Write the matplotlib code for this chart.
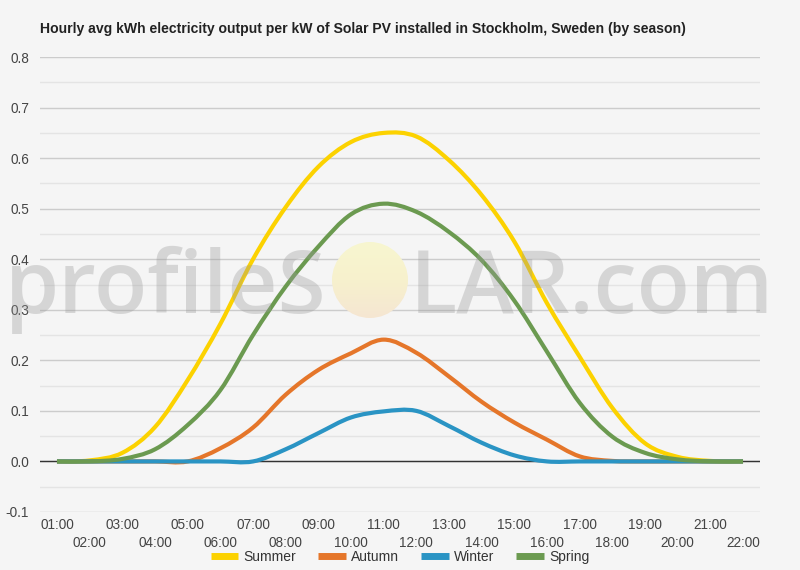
import matplotlib
matplotlib.use("Agg")
import matplotlib.pyplot as plt
from matplotlib.path import Path
from matplotlib.patches import PathPatch, Circle
from matplotlib.lines import Line2D
from matplotlib.colors import LinearSegmentedColormap
import numpy as np

hours = list(range(1, 23))
hour_labels = [f"{h:02d}:00" for h in hours]

summer = [0.0, 0.002, 0.017, 0.068, 0.161, 0.272, 0.4, 0.503, 0.583, 0.632, 0.65, 0.643,
          0.596, 0.527, 0.435, 0.313, 0.207, 0.106, 0.036, 0.009, 0.001, 0.0]
autumn = [0.0, 0.0, 0.0, 0.0, 0.0, 0.026, 0.067, 0.132, 0.181, 0.214, 0.241, 0.215,
          0.168, 0.118, 0.077, 0.043, 0.01, 0.001, 0.0, 0.0, 0.0, 0.0]
winter = [0.0, 0.0, 0.0, 0.0, 0.0, 0.0, 0.0, 0.024, 0.056, 0.087, 0.099, 0.1,
          0.07, 0.037, 0.012, 0.0, 0.0, 0.0, 0.0, 0.0, 0.0, 0.0]
spring = [0.0, 0.0, 0.005, 0.024, 0.072, 0.141, 0.25, 0.346, 0.425, 0.489, 0.51, 0.494,
          0.454, 0.398, 0.318, 0.217, 0.116, 0.049, 0.017, 0.004, 0.0, 0.0]

series_names = ["Summer", "Autumn", "Winter", "Spring"]
series_values = [summer, autumn, winter, spring]
series_colors = ["#fcd200", "#e5762a", "#2a94c4", "#6b9a50"]

title = "Hourly avg kWh electricity output per kW of Solar PV installed in Stockholm, Sweden (by season)"

BG = "#f5f5f5"
plt.rcParams['font.family'] = ['Liberation Sans', 'DejaVu Sans']

fig = plt.figure(figsize=(8, 5.7), dpi=100, facecolor=BG)
ax = fig.add_axes([0.05, 0.1018, 0.90, 0.798], facecolor=BG)


def smooth_path(xs, ys):
    xs = np.asarray(xs, float)
    ys = np.asarray(ys, float)
    n = len(xs)
    verts = [(xs[0], ys[0])]
    codes = [Path.MOVETO]
    for i in range(n - 1):
        p0 = i - 1 if i > 0 else i
        p3 = i + 2 if i + 2 < n else i + 1
        c1 = (xs[i] + (xs[i + 1] - xs[p0]) / 6, ys[i] + (ys[i + 1] - ys[p0]) / 6)
        c2 = (xs[i + 1] - (xs[p3] - xs[i]) / 6, ys[i + 1] - (ys[p3] - ys[i]) / 6)
        verts += [c1, c2, (xs[i + 1], ys[i + 1])]
        codes += [Path.CURVE4] * 3
    return Path(verts, codes)


# grid
for v in np.arange(-0.1, 0.801, 0.1):
    ax.axhline(v, color="#cccccc", lw=1.0, zorder=1)
for v in np.arange(-0.05, 0.8, 0.1):
    ax.axhline(v, color="#e4e4e4", lw=1.0, zorder=1)
ax.axhline(0, color="#333333", lw=1.0, zorder=2)

for name, vals, col in zip(series_names, series_values, series_colors):
    p = smooth_path(hours, vals)
    ax.add_patch(PathPatch(p, fill=False, edgecolor=col, lw=3.0, zorder=3,
                           capstyle='butt', joinstyle='round'))

ax.set_xlim(0.48, 22.52)
ax.set_ylim(-0.1, 0.8)
for s in ax.spines.values():
    s.set_visible(False)

yt = np.arange(-0.1, 0.801, 0.1)
ax.set_yticks(yt)
ax.set_yticklabels([f"{v:.1f}" for v in yt])
ax.tick_params(axis='y', length=0, pad=8, labelsize=9.8, labelcolor="#444444")

odd = [h for h in hours if h % 2 == 1]
even = [h for h in hours if h % 2 == 0]
ax.set_xticks(odd)
ax.set_xticklabels([hour_labels[h - 1] for h in odd])
ax.set_xticks(even, minor=True)
ax.set_xticklabels([hour_labels[h - 1] for h in even], minor=True)
ax.tick_params(axis='x', which='major', length=0, pad=4, labelsize=9.8, labelcolor="#444444")
ax.tick_params(axis='x', which='minor', length=0, pad=17, labelsize=9.8, labelcolor="#444444")

fig.text(0.05, 0.949, title, fontsize=10.1, fontweight='bold', color="#222222",
         ha='left', va='center')

# watermark
wm_kw = dict(fontsize=60, color="#9a9a9a", alpha=0.34, family=['Open Sans', 'DejaVu Sans'],
             fontweight='semibold', va='baseline', zorder=10, transform=fig.transFigure)
t1 = fig.text(327 / 800, 1 - 313 / 570, "profileS", ha='right', **wm_kw)
t2 = fig.text(410 / 800, 1 - 313 / 570, "LAR.com", ha='left', **wm_kw)
fig.canvas.draw()
r = fig.canvas.get_renderer()
w1 = t1.get_window_extent(r).width
fs = 60 * 322 / w1
t1.set_fontsize(fs)
t2.set_fontsize(fs)

# sun
sax = fig.add_axes([332 / 800, 1 - 318 / 570, 76 / 800, 76 / 570], zorder=5)
sax.set_axis_off()
cmap = LinearSegmentedColormap.from_list("sun", ["#f8f6d0", "#f7f1cd", "#f5e6d2"])
grad = np.linspace(0, 1, 100).reshape(-1, 1)
im = sax.imshow(grad, cmap=cmap, aspect='auto', extent=(0, 1, 0, 1), origin='upper')
clip = Circle((0.5, 0.5), 0.5, transform=sax.transAxes)
im.set_clip_path(clip)
sax.set_xlim(0, 1)
sax.set_ylim(0, 1)

handles = [Line2D([], [], color=c, lw=5, solid_capstyle='butt') for c in series_colors]
fig.legend(handles, series_names, loc='center', bbox_to_anchor=(0.5, 1 - 557 / 570),
           ncol=4, frameon=False, fontsize=10, handlelength=2.0, handletextpad=0.35,
           columnspacing=1.6, labelcolor="#333333")

fig.savefig("out.png", dpi=100, facecolor=BG)
